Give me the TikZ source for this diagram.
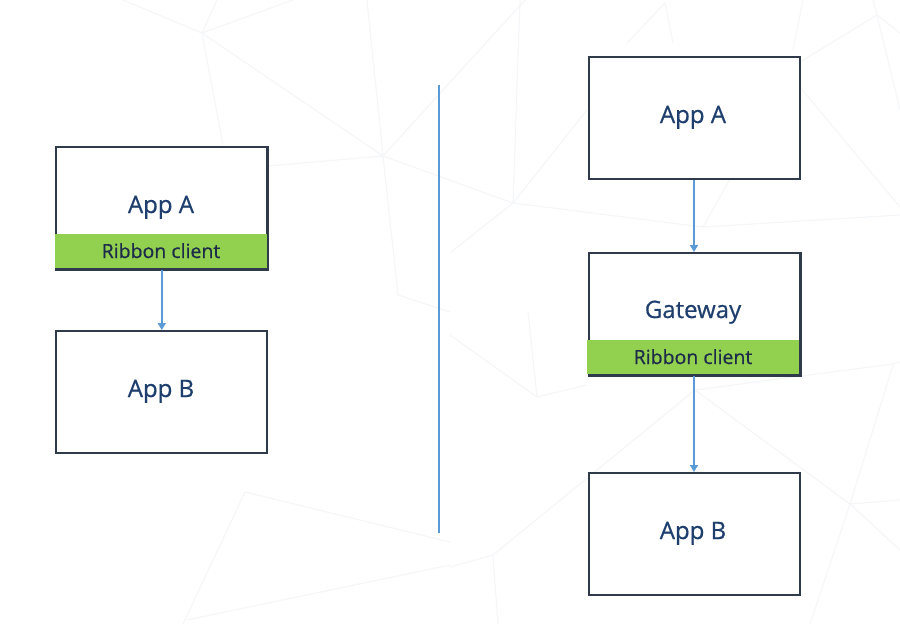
\documentclass[tikz,border=0pt]{standalone}
\usepackage{fontspec}
\setmainfont{Open Sans}
\newfontfamily\boxfont{Open Sans}[FakeBold=0.6]
\usetikzlibrary{arrows.meta}
\definecolor{boxline}{HTML}{2F3A4B}
\definecolor{ribgreen}{HTML}{92D050}
\definecolor{arrblue}{HTML}{5B9BD5}
\definecolor{navytext}{HTML}{1E3F6E}
\definecolor{ribtext}{HTML}{1D2B4A}
\definecolor{bgline}{HTML}{F5F6F8}
\tikzset{
  appbox/.style={draw=boxline, line width=2pt, fill=white, minimum width=211pt, minimum height=122pt, inner sep=0pt, anchor=north west},
  ribband/.style={fill=ribgreen, minimum width=212pt, minimum height=34pt, inner sep=0pt, anchor=south west},
  edgeline/.style={draw=boxline, line width=2pt},
  apptext/.style={font=\boxfont\fontsize{24}{28}\selectfont, text=navytext, anchor=base, inner sep=0pt},
  ribtxt/.style={font=\boxfont\fontsize{19.5}{24}\selectfont, text=ribtext, anchor=base, inner sep=0pt},
  flow/.style={draw=arrblue, line width=1.5pt, -{Triangle[width=8pt,length=7pt]}},
  divider/.style={draw=arrblue, line width=2pt},
  bg/.style={draw=bgline, line width=1.2pt}
}
\begin{document}
\begin{tikzpicture}[x=1pt,y=-1pt]
\useasboundingbox (0,0) rectangle (900,624);
% faint low-poly background
\begin{scope}
\draw[bg] (123,0) -- (202,33) -- (217,0);
\draw[bg] (202,33) -- (293,0);
\draw[bg] (202,33) -- (383,156);
\draw[bg] (202,33) -- (223,145);
\draw[bg] (383,156) -- (367,0);
\draw[bg] (383,156) -- (268,166);
\draw[bg] (383,156) -- (525,0);
\draw[bg] (383,156) -- (513,203);
\draw[bg] (383,156) -- (398,295) -- (450,312);
\draw[bg] (513,203) -- (520,0);
\draw[bg] (513,203) -- (450,253);
\draw[bg] (513,203) -- (703,227) -- (900,215);
\draw[bg] (513,203) -- (587,110);
\draw[bg] (703,227) -- (730,179);
\draw[bg] (665,3) -- (627,43);
\draw[bg] (665,3) -- (673,43);
\draw[bg] (877,15) -- (800,62);
\draw[bg] (877,15) -- (900,33);
\draw[bg] (877,15) -- (873,0);
\draw[bg] (877,15) -- (900,110);
\draw[bg] (800,87) -- (900,207);
\draw[bg] (793,50) -- (803,0);
\draw[bg] (245,492) -- (183,624);
\draw[bg] (245,492) -- (450,542);
\draw[bg] (187,620) -- (450,565);
\draw[bg] (537,397) -- (528,312);
\draw[bg] (537,397) -- (450,335);
\draw[bg] (537,397) -- (587,385);
\draw[bg] (695,390) -- (893,364) -- (900,362);
\draw[bg] (695,390) -- (850,504);
\draw[bg] (695,390) -- (493,555);
\draw[bg] (493,555) -- (450,567);
\draw[bg] (493,555) -- (498,624);
\draw[bg] (850,504) -- (900,500);
\draw[bg] (850,504) -- (810,624);
\draw[bg] (850,504) -- (893,365);
\draw[bg] (850,504) -- (900,550);
\end{scope}
% divider
\coordinate (dtop) at (438.5,85);
\coordinate (dbot) at (438.5,533);
\draw[divider] (dtop) -- (dbot);
% left side
\node[appbox] (la) at (55.3,146) {};
\node[ribband] (lar) at (54.3,268) {};
\draw[edgeline] (la.north east) -- (la.south east) -- (la.south west);
\node[apptext] (latx) at (161,213) {App A};
\node[ribtxt] (lartx) at (161,258) {Ribbon client};
\node[appbox] (lb) at (55.3,330) {};
\node[apptext] (lbtx) at (161,397) {App B};
\draw[flow] (la.south) -- (lb.north);
% right side
\node[appbox] (ra) at (587.5,56) {};
\node[apptext] (ratx) at (693,123) {App A};
\node[appbox] (rg) at (587.5,252) {};
\node[ribband] (rgr) at (586.5,374) {};
\draw[edgeline] (rg.north east) -- (rg.south east) -- (rg.south west);
\node[apptext] (rgtx) at (693,318) {Gateway};
\node[ribtxt] (rgrtx) at (693,364) {Ribbon client};
\node[appbox] (rb) at (587.5,472) {};
\node[apptext] (rbtx) at (693,539) {App B};
\draw[flow] (ra.south) -- (rg.north);
\draw[flow] (rg.south) -- (rb.north);
\end{tikzpicture}
\end{document}
